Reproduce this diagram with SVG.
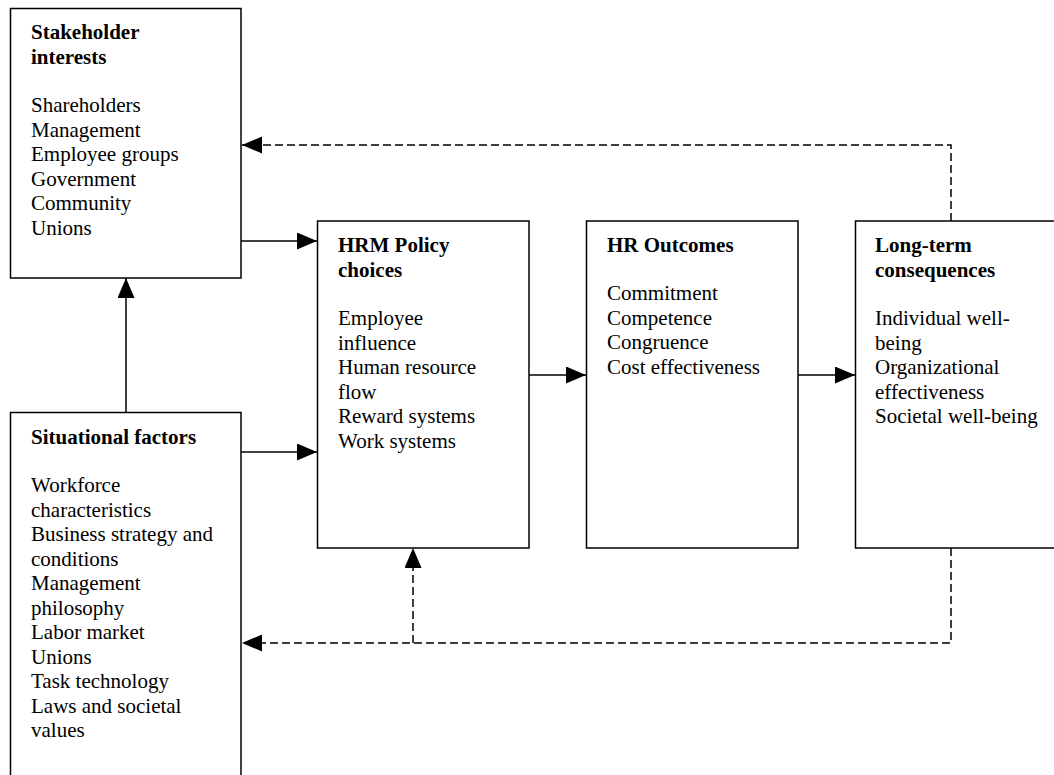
<svg xmlns="http://www.w3.org/2000/svg" width="1054" height="775" viewBox="0 0 1054 775">
<style>
  .box { fill: #fff; stroke: #000; stroke-width: 1.5; }
  .t { font-family: "Liberation Serif", "Times New Roman", serif; font-size: 21px; fill: #000; }
  .b { font-weight: bold; }
  .ln { fill: none; stroke: #000; stroke-width: 1.5; }
  .dash { stroke-dasharray: 8 4; }
</style>
<defs>
  <marker id="ah" markerUnits="userSpaceOnUse" markerWidth="21" markerHeight="18" refX="20" refY="8.5" orient="auto">
    <path d="M0,0 L20,8.5 L0,17 Z" fill="#000" stroke="none"/>
  </marker>
</defs>

<g id="connectors">
  <line class="ln" x1="126" y1="412" x2="126" y2="278" marker-end="url(#ah)"/>
  <line class="ln" x1="241" y1="241" x2="317" y2="241" marker-end="url(#ah)"/>
  <line class="ln" x1="241" y1="452" x2="317" y2="452" marker-end="url(#ah)"/>
  <line class="ln" x1="529" y1="375" x2="586" y2="375" marker-end="url(#ah)"/>
  <line class="ln" x1="798" y1="375" x2="855" y2="375" marker-end="url(#ah)"/>
  <polyline class="ln dash" points="951,221 951,145 242,145" marker-end="url(#ah)"/>
  <polyline class="ln dash" points="951,548 951,643 242,643" marker-end="url(#ah)"/>
  <line class="ln dash" x1="413" y1="643" x2="413" y2="548" marker-end="url(#ah)"/>
</g>

<g id="stakeholder">
  <rect class="box" x="10.5" y="8.5" width="230.5" height="269.5"/>
  <text class="t b" x="31" y="39">Stakeholder<tspan x="31" dy="24.5">interests</tspan></text>
  <text class="t" x="31" y="112">Shareholders<tspan x="31" dy="24.6">Management</tspan><tspan x="31" dy="24.6">Employee groups</tspan><tspan x="31" dy="24.6">Government</tspan><tspan x="31" dy="24.6">Community</tspan><tspan x="31" dy="24.6">Unions</tspan></text>
</g>

<g id="situational">
  <rect class="box" x="10.5" y="412.5" width="230.5" height="380"/>
  <text class="t b" x="31" y="444">Situational factors</text>
  <text class="t" x="31" y="492">Workforce<tspan x="31" dy="24.5">characteristics</tspan><tspan x="31" dy="24.5">Business strategy and</tspan><tspan x="31" dy="24.5">conditions</tspan><tspan x="31" dy="24.5">Management</tspan><tspan x="31" dy="24.5">philosophy</tspan><tspan x="31" dy="24.5">Labor market</tspan><tspan x="31" dy="24.5">Unions</tspan><tspan x="31" dy="24.5">Task technology</tspan><tspan x="31" dy="24.5">Laws and societal</tspan><tspan x="31" dy="24.5">values</tspan></text>
</g>

<g id="hrm">
  <rect class="box" x="317.5" y="221" width="211.5" height="327"/>
  <text class="t b" x="338" y="252">HRM Policy<tspan x="338" dy="24.5">choices</tspan></text>
  <text class="t" x="338" y="325">Employee<tspan x="338" dy="24.5">influence</tspan><tspan x="338" dy="24.5">Human resource</tspan><tspan x="338" dy="24.5">flow</tspan><tspan x="338" dy="24.5">Reward systems</tspan><tspan x="338" dy="24.5">Work systems</tspan></text>
</g>

<g id="hr-outcomes">
  <rect class="box" x="586.5" y="221" width="211.5" height="327"/>
  <text class="t b" x="607" y="252">HR Outcomes</text>
  <text class="t" x="607" y="300">Commitment<tspan x="607" dy="24.5">Competence</tspan><tspan x="607" dy="24.5">Congruence</tspan><tspan x="607" dy="24.5">Cost effectiveness</tspan></text>
</g>

<g id="long-term">
  <rect class="box" x="855.5" y="221" width="220" height="327"/>
  <text class="t b" x="875" y="252">Long-term<tspan x="875" dy="24.5">consequences</tspan></text>
  <text class="t" x="875" y="325">Individual well-<tspan x="875" dy="24.5">being</tspan><tspan x="875" dy="24.5">Organizational</tspan><tspan x="875" dy="24.5">effectiveness</tspan><tspan x="875" dy="24.5">Societal well-being</tspan></text>
</g>
</svg>
